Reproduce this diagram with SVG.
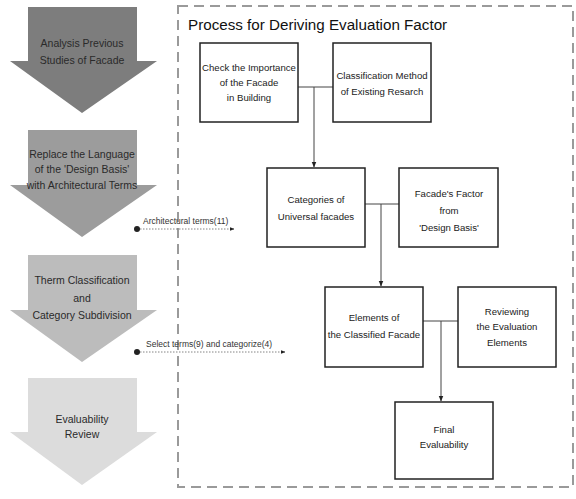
<svg xmlns="http://www.w3.org/2000/svg" width="576" height="499" viewBox="0 0 576 499">
<style>
text{font-family:"Liberation Sans",Arial,sans-serif;fill:#222;text-anchor:middle}
.at{font-size:10.5px;fill:#2a2a2a}
.bt{font-size:9.6px}
.lbl{font-size:8.5px;text-anchor:start;fill:#333}
.box{fill:#fff;stroke:#222;stroke-width:1.5}
.ln{fill:none;stroke:#444;stroke-width:1}
.dot{fill:none;stroke:#666;stroke-width:0.8;stroke-dasharray:1.5 1.5}
</style>
<defs>
<marker id="ah" viewBox="0 0 10 10" refX="9" refY="5" markerWidth="6" markerHeight="6" orient="auto"><path d="M0,1 L10,5 L0,9 Z" fill="#222"/></marker>
</defs>
<rect width="576" height="499" fill="#fff"/>
<g id="frame">
<rect x="178" y="6" width="395" height="481" fill="none" stroke="#9a9a9a" stroke-width="2" stroke-dasharray="10 6"/>
<text x="188" y="30" style="font-size:15.2px;text-anchor:start;fill:#111">Process for Deriving Evaluation Factor</text>
</g>
<g id="step1">
<polygon points="28,7 137,7 137,61 157,61 82,113 10,61 28,61" fill="#7d7d7d"/>
<text class="at" x="82" y="47">Analysis Previous</text>
<text class="at" x="82" y="64">Studies of Facade</text>
</g>
<g id="step2">
<polygon points="28,130 137,130 137,185 157,185 82,237 10,185 28,185" fill="#9c9c9c"/>
<text class="at" x="82" y="158">Replace the Language</text>
<text class="at" x="82" y="173">of the 'Design Basis'</text>
<text class="at" x="82" y="189">with Architectural Terms</text>
</g>
<g id="step3">
<polygon points="28,255 137,255 137,310 157,310 82,362 10,310 28,310" fill="#bcbcbc"/>
<text class="at" x="82" y="284">Therm Classification</text>
<text class="at" x="82" y="302">and</text>
<text class="at" x="82" y="319">Category Subdivision</text>
</g>
<g id="step4">
<polygon points="28,378 137,378 137,432 157,432 82,485 10,432 28,432" fill="#dcdcdc"/>
<text class="at" x="82" y="423">Evaluability</text>
<text class="at" x="82" y="438">Review</text>
</g>
<g id="connectors">
<line class="ln" x1="298" y1="87" x2="333" y2="87"/>
<line class="ln" x1="314" y1="87" x2="314" y2="167" marker-end="url(#ah)"/>
<line class="ln" x1="365" y1="204" x2="399" y2="204"/>
<line class="ln" x1="381" y1="204" x2="381" y2="286" marker-end="url(#ah)"/>
<line class="ln" x1="423" y1="321" x2="458" y2="321"/>
<line class="ln" x1="441" y1="321" x2="441" y2="401" marker-end="url(#ah)"/>
<circle cx="137" cy="229" r="3" fill="#222"/>
<line class="dot" x1="140" y1="229" x2="234" y2="229" marker-end="url(#ah)"/>
<text class="lbl" x="143" y="224">Architectural terms(11)</text>
<circle cx="137" cy="352" r="3" fill="#222"/>
<line class="dot" x1="140" y1="352" x2="285" y2="352" marker-end="url(#ah)"/>
<text class="lbl" x="146" y="347">Select terms(9) and categorize(4)</text>
</g>
<g id="n1"><rect class="box" x="200" y="43" width="98" height="79"/>
<text class="bt" x="249" y="71">Check the Importance</text><text class="bt" x="249" y="86">of the Facade</text><text class="bt" x="249" y="101">in Building</text></g>
<g id="n2"><rect class="box" x="333" y="43" width="98" height="79"/>
<text class="bt" x="382" y="79">Classification Method</text><text class="bt" x="382" y="95">of Existing Resarch</text></g>
<g id="n3"><rect class="box" x="267" y="168" width="98" height="79"/>
<text class="bt" x="316" y="203">Categories of</text><text class="bt" x="316" y="220">Universal facades</text></g>
<g id="n4"><rect class="box" x="399" y="168" width="99" height="79"/>
<text class="bt" x="449" y="197">Facade's Factor</text><text class="bt" x="449" y="214">from</text><text class="bt" x="449" y="231">'Design Basis'</text></g>
<g id="n5"><rect class="box" x="325" y="287" width="98" height="80"/>
<text class="bt" x="374" y="321">Elements of</text><text class="bt" x="374" y="338">the Classified Facade</text></g>
<g id="n6"><rect class="box" x="458" y="287" width="98" height="80"/>
<text class="bt" x="507" y="315">Reviewing</text><text class="bt" x="507" y="330">the Evaluation</text><text class="bt" x="507" y="346">Elements</text></g>
<g id="n7"><rect class="box" x="395" y="402" width="98" height="77"/>
<text class="bt" x="444" y="433">Final</text><text class="bt" x="444" y="448">Evaluability</text></g>
</svg>
